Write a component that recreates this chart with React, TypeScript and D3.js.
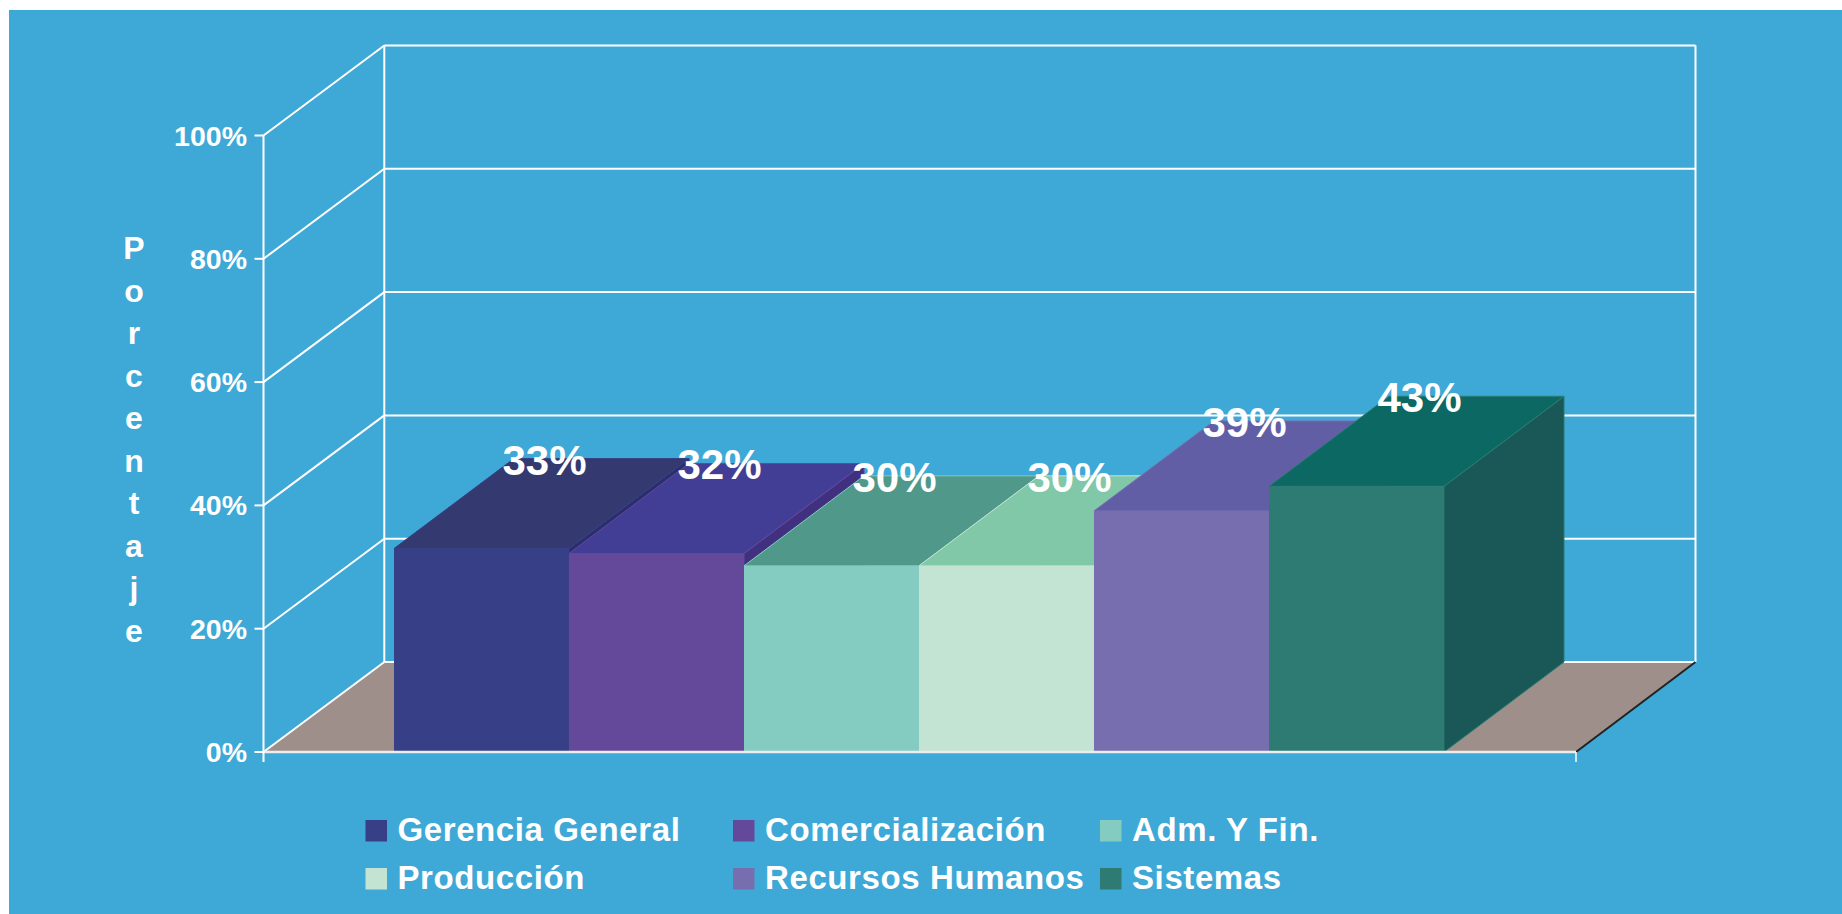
import React from "react";
import * as d3 from "d3";

const categories = ["Gerencia General", "Comercialización", "Adm. Y Fin.", "Producción", "Recursos Humanos", "Sistemas"];
const values = [33.0, 32.2, 30.2, 30.2, 39.1, 43.1];
const labels = ["33%", "32%", "30%", "30%", "39%", "43%"];
const frontColors = ["#373F87", "#64499B", "#84CBC1", "#C3E4D2", "#776EB0", "#2D7B73"];
const topColors = ["#343970", "#423E96", "#50998A", "#81C8A8", "#615EA6", "#0B6863"];
const sideColors = ["#2A2F6B", "#40307F", "#3F8074", "#6FB598", "#4E4A8E", "#195856"];
const yTicks = [0, 20, 40, 60, 80, 100];
const titleLetters = ["P", "o", "r", "c", "e", "n", "t", "a", "j", "e"];

const W = 1842, H = 914;
const DX = 120, DY = -90;
const FONT = "'Liberation Sans', Arial, sans-serif";
const y = d3.scaleLinear().domain([0, 100]).range([752, 135.5]);
const xLeft = 263.5, xRight = 1576;
const backLeft = 384.3, backRight = 1695.5;
const x = d3.scaleBand<string>().domain(categories).range([xLeft, 1574.5]).paddingInner(0).paddingOuter(0.7457);
const line = d3.line<[number, number]>();
const poly = (pts: [number, number][]) => line(pts) + "Z";

const legendX = [365.5, 733, 1100];
const legendY = [820, 868];

export default function App() {
  const bw = x.bandwidth();
  const y0 = y(0);
  return (
    <svg width={W} height={H} style={{ position: "absolute", left: 0, top: 0, display: "block", background: "#fff" }}>
      <rect x={9} y={10} width={W - 9} height={H - 10} fill="#3EA8D6" />
      {/* floor */}
      <path d={poly([[xLeft, y0], [backLeft, y0 + DY], [backRight, y0 + DY], [xRight, y0]])} fill="#9E8F8A" />
      {/* back wall and gridlines */}
      {yTicks.map((t) => (
        <g key={t} stroke="#fff" strokeWidth={2} fill="none">
          <line x1={backLeft} x2={backRight} y1={y(t) + DY} y2={y(t) + DY} />
          <line x1={xLeft} x2={backLeft} y1={y(t)} y2={y(t) + DY} />
          <line x1={xLeft - 9} x2={xLeft} y1={y(t)} y2={y(t)} />
        </g>
      ))}
      <line x1={backLeft} x2={backLeft} y1={y(100) + DY} y2={y(0) + DY} stroke="#fff" strokeWidth={2} />
      <line x1={backRight} x2={backRight} y1={y(100) + DY} y2={y(0) + DY} stroke="#fff" strokeWidth={2} />
      <line x1={xRight} x2={backRight} y1={y0} y2={y0 + DY} stroke="#222" strokeWidth={2} />
      {/* bars */}
      {categories.map((c, i) => {
        const l = x(c)!;
        const r = l + bw;
        const t = y(values[i]);
        return (
          <g key={c}>
            <path d={poly([[r, y0], [r + DX, y0 + DY], [r + DX, t + DY], [r, t]])} fill={sideColors[i]} stroke={frontColors[i]} strokeWidth={1} />
            <path d={poly([[l, t], [l + DX, t + DY], [r + DX, t + DY], [r, t]])} fill={topColors[i]} stroke={frontColors[i]} strokeWidth={1} />
            <rect x={l} y={t} width={bw} height={y0 - t} fill={frontColors[i]} />
          </g>
        );
      })}
      {/* front axis */}
      <line x1={xLeft} x2={xRight} y1={y0} y2={y0} stroke="#EDEDED" strokeWidth={2.5} />
      <line x1={xLeft} x2={xLeft} y1={y(100)} y2={y0 + 10} stroke="#fff" strokeWidth={2} />
      <line x1={xRight} x2={xRight} y1={y0} y2={y0 + 10} stroke="#fff" strokeWidth={1.5} />
      {/* tick labels */}
      {yTicks.map((t) => (
        <text key={t} x={247} y={y(t) + 10} textAnchor="end" fill="#fff" fontFamily={FONT} fontWeight="bold" fontSize={28.5}>
          {t}%
        </text>
      ))}
      {/* axis title */}
      {titleLetters.map((ch, i) => (
        <text key={i} x={134} y={259 + i * 42.5} textAnchor="middle" fill="#fff" fontFamily={FONT} fontWeight="bold" fontSize={32}>
          {ch}
        </text>
      ))}
      {/* data labels */}
      {categories.map((c, i) => (
        <text key={c} x={x(c)! + bw / 2 + 63} y={y(values[i]) + DY + 16} textAnchor="middle" fill="#fff" fontFamily={FONT} fontWeight="bold" fontSize={42}>
          {labels[i]}
        </text>
      ))}
      {/* legend */}
      {categories.map((c, i) => {
        const lx = legendX[i % 3];
        const ly = legendY[Math.floor(i / 3)];
        return (
          <g key={c}>
            <rect x={lx} y={ly} width={21.5} height={21.5} fill={frontColors[i]} />
            <text x={lx + 32} y={ly + 21} fill="#fff" fontFamily={FONT} fontWeight="bold" fontSize={33} letterSpacing={0.6}>
              {c}
            </text>
          </g>
        );
      })}
    </svg>
  );
}
